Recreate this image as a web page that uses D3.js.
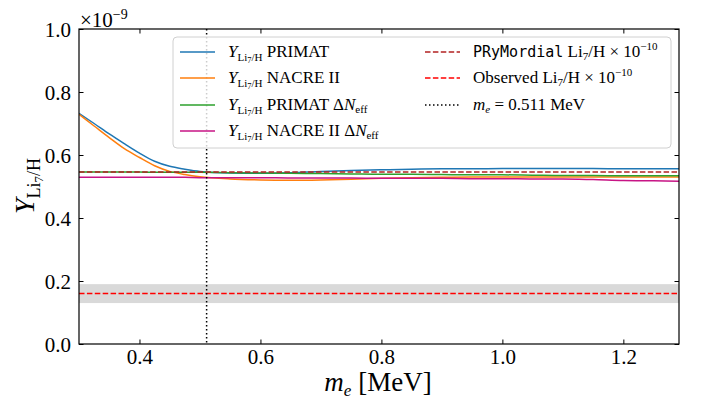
<!DOCTYPE html>
<html><head><meta charset="utf-8">
<script src="https://cdn.jsdelivr.net/npm/d3@7"></script>
<style>body{margin:0;background:#fff}svg{display:block}text{font-family:"Liberation Serif","DejaVu Serif",serif;fill:#000}</style>
</head><body>
<svg id="c" width="702" height="405"></svg>
<script>
// ---- data (y values in units of 1e-9) ----
const me = [0.30,0.325,0.35,0.375,0.40,0.425,0.45,0.475,0.50,0.55,0.60,0.65,0.70,0.75,0.80,0.85,0.90,0.95,1.00,1.05,1.10,1.15,1.20,1.25,1.292];
const primat = [0.732,0.700,0.667,0.636,0.606,0.580,0.564,0.555,0.548,0.543,0.542,0.544,0.548,0.551,0.553,0.555,0.556,0.556,0.557,0.557,0.557,0.557,0.556,0.556,0.556];
const nacre  = [0.729,0.692,0.655,0.620,0.592,0.566,0.548,0.538,0.531,0.524,0.521,0.520,0.521,0.523,0.526,0.528,0.529,0.530,0.530,0.530,0.530,0.530,0.530,0.530,0.530];
const primatDN = [0.546,0.546,0.546,0.546,0.546,0.545,0.545,0.545,0.545,0.544,0.543,0.542,0.541,0.540,0.539,0.539,0.538,0.537,0.537,0.536,0.535,0.535,0.534,0.534,0.534];
const nacreDN  = [0.529,0.529,0.529,0.529,0.529,0.529,0.529,0.529,0.528,0.528,0.528,0.527,0.527,0.527,0.526,0.526,0.526,0.525,0.525,0.524,0.524,0.522,0.519,0.518,0.517];
const prymordialLi7 = 0.546;
const observedLi7 = 0.160, observedErr = 0.030;
const meRef = 0.511;
const xTicks = [0.4,0.6,0.8,1.0,1.2];
const yTicks = [0.0,0.2,0.4,0.6,0.8,1.0];

const W=702,H=405, L=79,R=679,T=29,B=344;
const SERIF='"Liberation Serif","DejaVu Serif",serif';
const svg=d3.select('#c');
const x=d3.scaleLinear().domain([0.3,1.292]).range([L,R]);
const y=d3.scaleLinear().domain([0,1.0]).range([B,T]);

svg.append('defs').append('clipPath').attr('id','clip').append('rect')
  .attr('x',L).attr('y',T).attr('width',R-L).attr('height',B-T);
const plot=svg.append('g').attr('clip-path','url(#clip)');

// observed band
plot.append('rect').attr('x',L).attr('width',R-L)
  .attr('y',y(observedLi7+observedErr)).attr('height',y(observedLi7-observedErr)-y(observedLi7+observedErr))
  .attr('fill','#d9d9d9');

const line=d3.line().x(d=>x(d[0])).y(d=>y(d[1])).curve(d3.curveMonotoneX);
const series=[
  {v:primat,c:'#1f77b4'},
  {v:nacre,c:'#ff7f0e'},
  {v:primatDN,c:'#2ca02c'},
  {v:nacreDN,c:'#c71585'}
];
series.forEach(s=>{
  plot.append('path').attr('d',line(me.map((m,i)=>[m,s.v[i]])))
    .attr('fill','none').attr('stroke',s.c).attr('stroke-width',1.5);
});
// horizontal refs
plot.append('line').attr('x1',L).attr('x2',R).attr('y1',y(prymordialLi7)).attr('y2',y(prymordialLi7))
  .attr('stroke','#b22222').attr('stroke-width',1.5).attr('stroke-dasharray','5.5,2.4');
plot.append('line').attr('x1',L).attr('x2',R).attr('y1',y(observedLi7)).attr('y2',y(observedLi7))
  .attr('stroke','#ff0000').attr('stroke-width',1.5).attr('stroke-dasharray','5.5,2.4');
plot.append('line').attr('x1',x(meRef)).attr('x2',x(meRef)).attr('y1',T).attr('y2',B)
  .attr('stroke','#000').attr('stroke-width',1.5).attr('stroke-dasharray','1.5,2.5');

// axes
const tl=-4.5;
const gx=svg.append('g').attr('transform',`translate(0,${B})`)
  .call(d3.axisBottom(x).tickValues(xTicks).tickSizeInner(tl).tickSizeOuter(0).tickPadding(5).tickFormat(d3.format('.1f')));
const gxt=svg.append('g').attr('transform',`translate(0,${T})`)
  .call(d3.axisTop(x).tickValues(xTicks).tickSizeInner(tl).tickSizeOuter(0).tickFormat(''));
const gy=svg.append('g').attr('transform',`translate(${L},0)`)
  .call(d3.axisLeft(y).tickValues(yTicks).tickSizeInner(tl).tickSizeOuter(0).tickPadding(8).tickFormat(d3.format('.1f')));
const gyr=svg.append('g').attr('transform',`translate(${R},0)`)
  .call(d3.axisRight(y).tickValues(yTicks).tickSizeInner(tl).tickSizeOuter(0).tickFormat(''));
[gx,gxt,gy,gyr].forEach(g=>{
  g.attr('font-family',null).attr('font-size',null);
  g.select('.domain').remove();
  g.selectAll('line').attr('stroke','#000').attr('stroke-width',1);
  g.selectAll('text').style('font-family',SERIF).style('font-size','21px').attr('fill','#222');
});
gx.selectAll('text').attr('dy','0.71em');
gy.selectAll('text').attr('dy','0.34em');
svg.append('rect').attr('x',L).attr('y',T).attr('width',R-L).attr('height',B-T)
  .attr('fill','none').attr('stroke','#000').attr('stroke-width',1.2);

function rich(g,x0,y0,parts,base,anchor){
  const t=g.append('text').attr('x',x0).attr('y',y0).style('font-size',base+'px').style('font-family',SERIF);
  if(anchor) t.attr('text-anchor',anchor);
  let cur=0;
  parts.forEach(p=>{
    const off=p.o||0;
    const s=t.append('tspan').text(p.t).attr('dy',off-cur); cur=off;
    if(p.s) s.style('font-size',p.s+'px');
    if(p.i) s.style('font-style','italic');
    if(p.m) s.style('font-family','"DejaVu Sans Mono","Liberation Mono",monospace');
  });
  t.style('white-space','pre');
  return t;
}

// offset text
rich(svg,80,27,[{t:'×10'},{t:'−9',s:14,o:-8}],21);

// axis labels
rich(svg,378,391,[{t:'m',i:1},{t:'e',i:1,s:17,o:5},{t:' [MeV]',o:0}],27,'middle');
const yl=svg.append('g').attr('transform','translate(34,186) rotate(-90)');
rich(yl,0,0,[{t:'Y',i:1},{t:'Li',s:18,o:6},{t:'7',s:13,o:9},{t:'/H',s:18,o:6}],28,'middle');

// legend
const lg=svg.append('g');
lg.append('rect').attr('x',173).attr('y',37).attr('width',498).attr('height',111).attr('rx',4)
  .attr('fill','#fff').attr('fill-opacity',0.8).attr('stroke','#d0d0d0').attr('stroke-width',1);
const rows=[52,78,105,131];
const Ysub=[{t:'Y',i:1},{t:'Li',s:11,o:4},{t:'7',s:8.5,o:6},{t:'/H',s:11,o:4}];
const dN=[{t:' Δ',o:0},{t:'N',i:1,o:0},{t:'eff',s:11,o:3}];
const left=[
  {c:'#1f77b4',p:[...Ysub,{t:' PRIMAT',o:0}]},
  {c:'#ff7f0e',p:[...Ysub,{t:' NACRE II',o:0}]},
  {c:'#2ca02c',p:[...Ysub,{t:' PRIMAT',o:0},...dN]},
  {c:'#c71585',p:[...Ysub,{t:' NACRE II',o:0},...dN]}
];
left.forEach((d,i)=>{
  lg.append('line').attr('x1',180).attr('x2',215).attr('y1',rows[i]).attr('y2',rows[i]).attr('stroke',d.c).attr('stroke-width',1.5);
  rich(lg,228,rows[i]+5,d.p,17);
});
const li=[{t:'Li',o:0},{t:'7',s:11,o:3},{t:'/H × 10',o:0},{t:'−10',s:11,o:-7}];
const right=[
  {c:'#b22222',d:'5.5,2.4',p:[{t:'PRyMordial',m:1,s:15},{t:' ',o:0},...li]},
  {c:'#ff0000',d:'5.5,2.4',p:[{t:'Observed '},...li]},
  {c:'#000',d:'1.5,2.5',p:[{t:'m',i:1},{t:'e',i:1,s:11,o:3},{t:' = 0.511 MeV',o:0}]}
];
right.forEach((d,i)=>{
  lg.append('line').attr('x1',425).attr('x2',460).attr('y1',rows[i]).attr('y2',rows[i]).attr('stroke',d.c).attr('stroke-width',1.5).attr('stroke-dasharray',d.d);
  rich(lg,473,rows[i]+5,d.p,17);
});
</script>
</body></html>
